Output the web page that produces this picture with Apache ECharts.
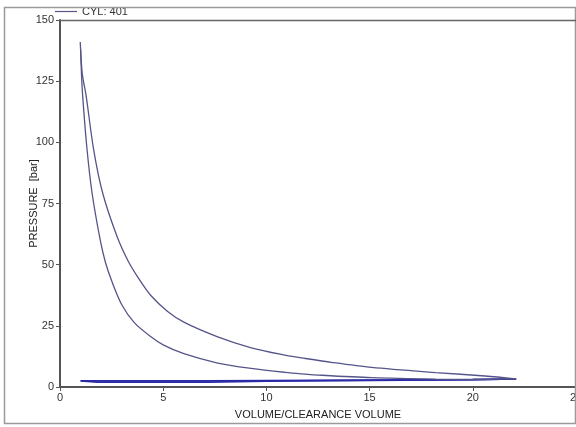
<!DOCTYPE html>
<html>
<head>
<meta charset="utf-8">
<script src="https://cdn.jsdelivr.net/npm/echarts@6/dist/echarts.min.js"></script>
<style>
html,body{margin:0;padding:0;background:#fff;}
#c{width:576px;height:427px;}
</style>
</head>
<body>
<div id="c"></div>
<script>
// Compression stroke (BDC -> TDC)
var compV = [22.1, 20.0, 18.2, 15.1, 12.7, 11.7, 10.9, 9.27, 7.64, 6.0, 5.0, 4.39, 3.6, 3.0, 2.52, 2.2, 1.95, 1.55, 1.3, 1.1, 1.04, 1.0];
var compP = [3.3, 3.1, 3.2, 3.8, 4.8, 5.4, 6.0, 7.6, 9.8, 13.6, 17.2, 20.6, 26.3, 33.5, 43.0, 51.0, 60.0, 79.5, 98, 118.8, 128, 138];
// Expansion stroke (TDC -> BDC)
var expV = [0.98, 1.08, 1.27, 1.63, 2.06, 2.76, 3.3, 3.8, 4.39, 5.2, 6.0, 7.64, 9.27, 10.9, 11.7, 13.2, 15.1, 18.2, 20.6, 22.1];
var expP = [141, 128, 118.8, 97, 79.5, 61.6, 51.5, 44.5, 37.5, 31.0, 26.5, 20.5, 16.0, 13.0, 11.9, 10.0, 8.0, 5.9, 4.5, 3.3];
// Exhaust stroke (BDC -> TDC)
var exhV = [22.1, 20, 15, 10, 7.2, 1.8, 1.0];
var exhP = [3.3, 3.0, 2.8, 2.6, 2.5, 2.5, 2.5];
// Intake stroke (TDC -> BDC)
var intV = [1.0, 1.8, 7.2, 10, 15, 20, 22.1];
var intP = [2.5, 2.0, 2.0, 2.4, 2.7, 3.0, 3.3];

var xTicks = [0, 5, 10, 15, 20, 25];
var yTicks = [0, 25, 50, 75, 100, 125, 150];
var seriesName = 'CYL: 401';

function pairs(v, p) { return v.map(function (x, i) { return [x, p[i]]; }); }

var chart = echarts.init(document.getElementById('c'), null, {renderer: 'canvas'});
var font = 'Liberation Sans, Arial, sans-serif';
var curveColor = '#55558a';
var gasColor = '#2a2aa6';
function curve(data, color, width, z, smooth) {
  return {
    name: seriesName, type: 'line', data: data, showSymbol: false, symbol: 'none',
    smooth: smooth,
    lineStyle: {color: color, width: width}, itemStyle: {color: color}, z: z
  };
}
chart.setOption({
  animation: false,
  backgroundColor: '#fff',
  textStyle: {fontFamily: font},
  grid: {left: 60, top: 20, right: 0, bottom: 40, containLabel: false, outerBoundsMode: 'none'},
  legend: {
    data: [{name: seriesName, icon: 'rect'}],
    left: 55, top: 6,
    itemWidth: 22, itemHeight: 1.2, itemGap: 6,
    textStyle: {fontSize: 11, color: '#333', fontFamily: font},
    padding: 0
  },
  xAxis: {
    type: 'value', min: xTicks[0], max: xTicks[xTicks.length - 1], interval: 5,
    name: 'VOLUME/CLEARANCE VOLUME', nameLocation: 'middle', nameGap: 22, nameMoveOverlap: false,
    nameTextStyle: {fontSize: 11, color: '#222', fontFamily: font},
    axisLine: {show: true, onZero: false, lineStyle: {color: '#555', width: 2}},
    axisTick: {show: true, inside: false, length: 4, lineStyle: {color: '#555'}},
    axisLabel: {fontSize: 11, color: '#333', margin: 5, fontFamily: font, showMaxLabel: true},
    splitLine: {show: false}
  },
  yAxis: {
    type: 'value', min: yTicks[0], max: yTicks[yTicks.length - 1], interval: 25,
    name: 'PRESSURE  [bar]', nameLocation: 'middle', nameGap: 21, nameRotate: 90, nameMoveOverlap: false,
    nameTextStyle: {fontSize: 11, color: '#222', fontFamily: font},
    axisLine: {show: true, onZero: false, lineStyle: {color: '#555', width: 2}},
    axisTick: {show: true, inside: false, length: 4, lineStyle: {color: '#555'}},
    axisLabel: {fontSize: 11, color: '#333', margin: 6, fontFamily: font},
    splitLine: {show: false}
  },
  graphic: [
    {type: 'rect', shape: {x: 4.5, y: 7.5, width: 571, height: 416}, style: {fill: 'none', stroke: '#9a9a9a', lineWidth: 1.5}, z: 100, silent: true},
    {type: 'line', shape: {x1: 60, y1: 20.5, x2: 576, y2: 20.5}, style: {stroke: '#666', lineWidth: 1.5}, z: 100, silent: true}
  ],
  series: [
    curve(pairs(compV, compP), curveColor, 1.3, 3, 0.3),
    curve(pairs(expV, expP), curveColor, 1.3, 3, 0.3),
    curve(pairs(exhV, exhP), gasColor, 1.6, 2, false),
    curve(pairs(intV, intP), gasColor, 1.6, 2, false)
  ]
});
</script>
</body>
</html>
